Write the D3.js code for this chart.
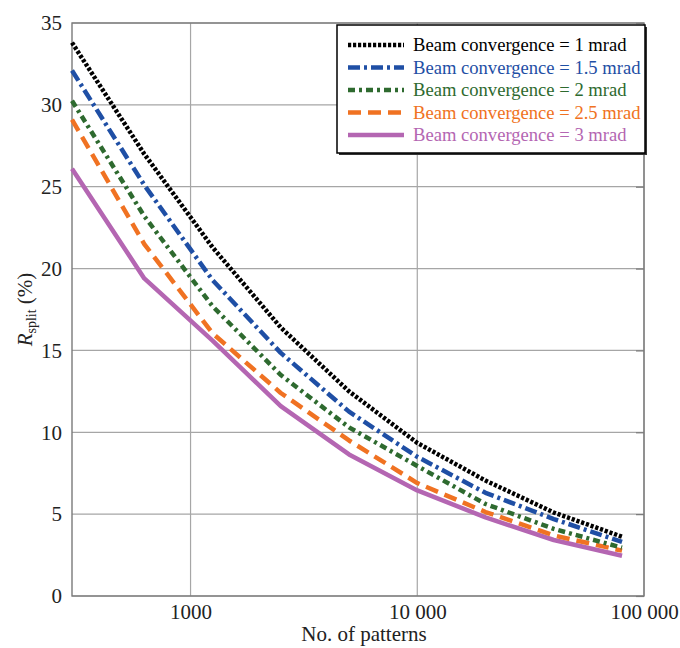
<!DOCTYPE html>
<html>
<head>
<meta charset="utf-8">
<script src="https://cdn.jsdelivr.net/npm/d3@7"></script>
<style>
  body { margin: 0; background: #fff; }
  svg text { font-family: "Liberation Serif", "Times New Roman", Times, serif !important; }
</style>
</head>
<body>
<div id="chart"></div>
<script>
// data
const patterns = [300, 625, 1250, 2500, 5000, 10000, 20000, 40000, 80000];
const conv1   = [33.8, 27.0, 21.3, 16.4, 12.5, 9.35, 7.05, 5.1, 3.62];
const conv1_5 = [32.1, 25.1, 19.3, 14.85, 11.26, 8.5, 6.3, 4.7, 3.3];
const conv2   = [30.25, 23.2, 17.7, 13.5, 10.3, 7.94, 5.62, 4.1, 2.95];
const conv2_5 = [29.1, 21.5, 16.05, 12.4, 9.5, 6.9, 5.13, 3.7, 2.77];
const conv3   = [26.1, 19.4, 15.6, 11.6, 8.65, 6.45, 4.8, 3.42, 2.46];
const seriesNames = ["Beam convergence = 1 mrad", "Beam convergence = 1.5 mrad",
  "Beam convergence = 2 mrad", "Beam convergence = 2.5 mrad", "Beam convergence = 3 mrad"];
const xTicks = [1000, 10000, 100000];
const xTickLabels = ["1000", "10 000", "100 000"];
const yTicks = [0, 5, 10, 15, 20, 25, 30, 35];

const series = [
  {name: seriesNames[0], values: conv1,   color: "#000000", dash: "3.2,1.8"},
  {name: seriesNames[1], values: conv1_5, color: "#1f4fa5", dash: "12,4,3,4"},
  {name: seriesNames[2], values: conv2,   color: "#2e6a2f", dash: "7,4,3,4"},
  {name: seriesNames[3], values: conv2_5, color: "#f07222", dash: "13,7"},
  {name: seriesNames[4], values: conv3,   color: "#b466b2", dash: null}
];

const W = 680, H = 648;
const margin = {top: 23, right: 36, bottom: 52, left: 72};
const serif = "'Liberation Serif', 'Times New Roman', Times, serif";

const svg = d3.select("#chart").append("svg")
  .attr("width", W).attr("height", H)
  .attr("font-family", serif);

const x = d3.scaleLog()
  .domain([300, 100000])
  .range([margin.left, W - margin.right]);
const y = d3.scaleLinear()
  .domain([0, 35])
  .range([H - margin.bottom, margin.top]);

// grid
svg.append("g")
  .selectAll("line")
  .data(yTicks)
  .join("line")
    .attr("x1", x.range()[0]).attr("x2", x.range()[1])
    .attr("y1", d => y(d)).attr("y2", d => y(d))
    .attr("stroke", "#a6a6a6").attr("stroke-width", 1.2);
svg.append("g")
  .selectAll("line")
  .data(xTicks)
  .join("line")
    .attr("x1", d => x(d)).attr("x2", d => x(d))
    .attr("y1", y.range()[0]).attr("y2", y.range()[1])
    .attr("stroke", "#a6a6a6").attr("stroke-width", 1.2);

// frame
svg.append("rect")
  .attr("x", x.range()[0]).attr("y", y.range()[1])
  .attr("width", x.range()[1] - x.range()[0])
  .attr("height", y.range()[0] - y.range()[1])
  .attr("fill", "none").attr("stroke", "#7a7a7a").attr("stroke-width", 1.4);

// right-side inward ticks
svg.append("g")
  .attr("transform", `translate(${x.range()[1]},0)`)
  .call(d3.axisLeft(y).tickValues(yTicks).tickSize(8).tickFormat(""))
  .call(g => g.select(".domain").remove())
  .call(g => g.selectAll("line").attr("stroke", "#7a7a7a").attr("stroke-width", 1.2));

// axis labels
const yAxis = svg.append("g")
  .attr("transform", `translate(${x.range()[0]},0)`)
  .call(d3.axisLeft(y).tickValues(yTicks).tickSize(0).tickPadding(10));
yAxis.attr("font-family", serif).attr("font-size", 21);
yAxis.select(".domain").remove();
yAxis.selectAll("text").attr("fill", "#222");

const xAxis = svg.append("g")
  .attr("transform", `translate(0,${y.range()[0]})`)
  .call(d3.axisBottom(x).tickValues(xTicks).tickSize(0).tickPadding(8)
    .tickFormat((d, i) => xTickLabels[i]));
xAxis.attr("font-family", serif).attr("font-size", 21);
xAxis.select(".domain").remove();
xAxis.selectAll("text").attr("fill", "#222");

// lines
const line = d3.line()
  .x((d, i) => x(patterns[i]))
  .y(d => y(d));

svg.append("g")
  .selectAll("path")
  .data(series.slice().reverse())
  .join("path")
    .attr("fill", "none")
    .attr("stroke", d => d.color)
    .attr("stroke-width", 4.5)
    .attr("stroke-dasharray", d => d.dash)
    .attr("stroke-linejoin", "round")
    .attr("d", d => line(d.values));

// axis titles
svg.append("text")
  .attr("x", 364).attr("y", 641)
  .attr("text-anchor", "middle")
  .attr("font-size", 21)
  .attr("fill", "#222")
  .text("No. of patterns");

const yTitle = svg.append("text")
  .attr("transform", `translate(32,${(y.range()[0] + y.range()[1]) / 2}) rotate(-90)`)
  .attr("text-anchor", "middle")
  .attr("font-size", 21)
  .attr("fill", "#222");
yTitle.append("tspan").attr("font-style", "italic").text("R");
yTitle.append("tspan").attr("dy", 4).attr("font-size", 14).text("split");
yTitle.append("tspan").attr("dy", -4).text(" (%)");

// legend
const lg = {x: 337, y: 25, w: 308, h: 128};
svg.append("rect")
  .attr("x", lg.x + 2).attr("y", lg.y + 2)
  .attr("width", lg.w).attr("height", lg.h)
  .attr("fill", "#333");
svg.append("rect")
  .attr("x", lg.x).attr("y", lg.y)
  .attr("width", lg.w).attr("height", lg.h)
  .attr("fill", "#fff").attr("stroke", "#000").attr("stroke-width", 1.5);

const rows = svg.append("g")
  .selectAll("g")
  .data(series)
  .join("g")
    .attr("transform", (d, i) => `translate(${lg.x},${lg.y + 20 + i * 22.5})`);
rows.append("line")
  .attr("x1", 11).attr("x2", 67)
  .attr("stroke", d => d.color)
  .attr("stroke-width", 4.5)
  .attr("stroke-dasharray", d => d.dash);
rows.append("text")
  .attr("x", 76).attr("y", 6)
  .attr("font-size", 18.6)
  .attr("fill", d => d.color)
  .text(d => d.name);
</script>
</body>
</html>
